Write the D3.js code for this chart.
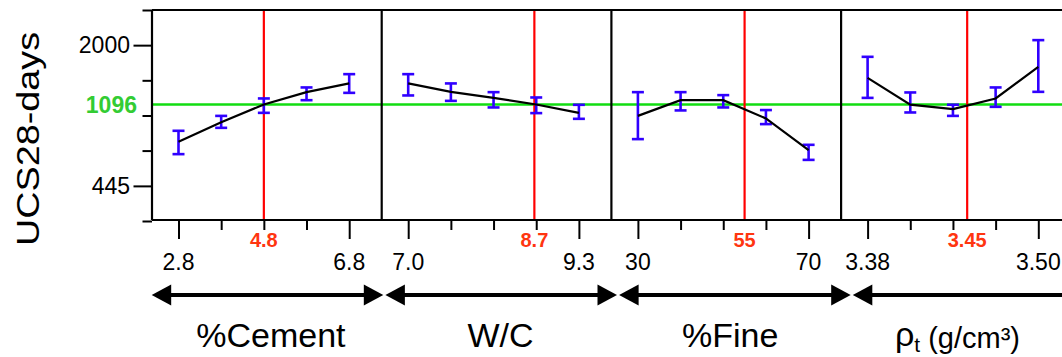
<!DOCTYPE html>
<html>
<head>
<meta charset="utf-8">
<script src="https://cdnjs.cloudflare.com/ajax/libs/d3/7.8.5/d3.min.js"></script>
<style>
  html, body { margin: 0; padding: 0; background: #fff; }
  svg { display: block; font-family: "Liberation Sans", Arial, Helvetica, sans-serif; }
</style>
</head>
<body>
<svg id="chart" width="1062" height="357"></svg>
<script>
// Prediction profiler: UCS at 28 days versus four mix factors.

// Factor levels (x) and predicted response with confidence limits (y)
const cementLevels = [2.8, 3.8, 4.8, 5.8, 6.8];
const cementMean   = [734, 909, 1096, 1247, 1364];
const cementLow    = [640, 855, 1004, 1147, 1238];
const cementHigh   = [828, 972, 1168, 1309, 1499];

const wcLevels = [7.0, 7.575, 8.15, 8.725, 9.3];
const wcMean   = [1364, 1251, 1175, 1096, 1004];
const wcLow    = [1205, 1139, 1063, 1001, 942];
const wcHigh   = [1499, 1364, 1247, 1180, 1093];

const fineLevels = [30, 40, 50, 60, 70];
const fineMean   = [972, 1147, 1147, 946, 669];
const fineLow    = [756, 1030, 1063, 890, 600];
const fineHigh   = [1247, 1247, 1209, 1034, 710];

const densityLevels = [3.38, 3.41, 3.44, 3.47, 3.50];
const densityMean   = [1444, 1094, 1044, 1168, 1614];
const densityLow    = [1175, 1008, 972, 1070, 1251];
const densityHigh   = [1783, 1243, 1094, 1309, 2100];

// Current factor settings and the response predicted there
const currentSettings = [4.8, 8.7, 55, 3.45];
const currentLabels   = ["4.8", "8.7", "55", "3.45"];
const predictedValue  = 1096;

// Axis text
const endTickLabels = [["2.8", "6.8"], ["7.0", "9.3"], ["30", "70"], ["3.38", "3.50"]];
const yTickValues   = [292, 445, 666, 976, 1408, 2000, 2800];
const yTickLabelled = [445, 2000];
const yDomain       = [292, 2800];
const yTitle        = "UCS28-days";

// ---------------------------------------------------------------------------
const panels = [
  { levels: cementLevels,  mean: cementMean,  low: cementLow,  high: cementHigh },
  { levels: wcLevels,      mean: wcMean,      low: wcLow,      high: wcHigh },
  { levels: fineLevels,    mean: fineMean,    low: fineLow,    high: fineHigh },
  { levels: densityLevels, mean: densityMean, low: densityLow, high: densityHigh }
].map((p, i) => Object.assign(p, {
  current: currentSettings[i],
  currentLabel: currentLabels[i],
  ends: endTickLabels[i]
}));

const W = 1062;
const plotTop = 10, plotBottom = 220;
const left0 = 152, panelW = 229.7;
const BLUE = "#3000ff", RED = "#ff0000", RED_TXT = "#ff3510";
const GREEN = "#11dd11", GREEN_TXT = "#33cc33";

const svg = d3.select("#chart");
svg.append("rect").attr("width", W).attr("height", 357).attr("fill", "#fff");

const y = d3.scalePow().exponent(0.12).domain(yDomain).range([221, plotTop]);

// Horizontal reference line at the predicted response
svg.append("line")
  .attr("x1", left0).attr("x2", W)
  .attr("y1", y(predictedValue)).attr("y2", y(predictedValue))
  .attr("stroke", GREEN).attr("stroke-width", 2.6);

panels.forEach((p, i) => {
  const x0 = left0 + i * panelW, x1 = x0 + panelW;
  const x = d3.scaleLinear()
    .domain([p.levels[0], p.levels[p.levels.length - 1]])
    .range([x0 + 26.5, x1 - 32.5]);
  const g = svg.append("g");

  // bottom axis: long ticks at the ends, short ones inside
  const ax = g.append("g")
    .attr("transform", `translate(0,${plotBottom})`)
    .call(d3.axisBottom(x).tickValues(p.levels).tickSizeOuter(0).tickFormat(""));
  ax.select(".domain").remove();
  ax.selectAll(".tick line")
    .attr("y2", (d, j) => (j === 0 || j === p.levels.length - 1) ? 19 : 10)
    .attr("stroke", "#000").attr("stroke-width", 2);

  g.selectAll("text.end")
    .data([p.levels[0], p.levels[p.levels.length - 1]])
    .join("text")
    .attr("class", "end")
    .attr("x", d => x(d)).attr("y", 270)
    .attr("text-anchor", "middle")
    .attr("font-size", 23)
    .text((d, j) => p.ends[j]);

  // current setting
  g.append("line")
    .attr("x1", x(p.current)).attr("x2", x(p.current))
    .attr("y1", plotTop).attr("y2", plotBottom)
    .attr("stroke", RED).attr("stroke-width", 2.2);
  g.append("text")
    .attr("x", x(p.current)).attr("y", 246.7)
    .attr("text-anchor", "middle")
    .attr("font-size", 20).attr("font-weight", "bold")
    .attr("fill", RED_TXT)
    .text(p.currentLabel);

  // confidence bars
  const rows = p.levels.map((lv, j) => ({ lv, m: p.mean[j], lo: p.low[j], hi: p.high[j] }));
  const eb = g.append("g").attr("stroke", BLUE).attr("stroke-width", 2.6).attr("fill", "none");
  eb.selectAll("line.v").data(rows).join("line").attr("class", "v")
    .attr("x1", d => x(d.lv)).attr("x2", d => x(d.lv))
    .attr("y1", d => y(d.lo)).attr("y2", d => y(d.hi));
  eb.selectAll("line.lo").data(rows).join("line").attr("class", "lo")
    .attr("x1", d => x(d.lv) - 6).attr("x2", d => x(d.lv) + 6)
    .attr("y1", d => y(d.lo)).attr("y2", d => y(d.lo));
  eb.selectAll("line.hi").data(rows).join("line").attr("class", "hi")
    .attr("x1", d => x(d.lv) - 6).attr("x2", d => x(d.lv) + 6)
    .attr("y1", d => y(d.hi)).attr("y2", d => y(d.hi));

  // prediction trace
  g.append("path")
    .datum(rows)
    .attr("fill", "none").attr("stroke", "#000").attr("stroke-width", 2.2)
    .attr("d", d3.line().x(d => x(d.lv)).y(d => y(d.m)));
});

// frame
const frame = svg.append("g").attr("stroke", "#000").attr("stroke-width", 2.2);
frame.append("line").attr("x1", left0).attr("x2", W).attr("y1", plotTop).attr("y2", plotTop);
frame.append("line").attr("x1", left0).attr("x2", W).attr("y1", plotBottom).attr("y2", plotBottom);
d3.range(panels.length + 1).forEach(i => {
  const xx = left0 + i * panelW;
  frame.append("line").attr("x1", xx).attr("x2", xx).attr("y1", plotTop).attr("y2", plotBottom);
});

// y axis
const yAx = svg.append("g")
  .attr("transform", `translate(${left0},0)`)
  .call(d3.axisLeft(y).tickValues(yTickValues).tickSizeOuter(0)
    .tickFormat(d => yTickLabelled.includes(d) ? d3.format("d")(d) : ""));
yAx.select(".domain").remove();
yAx.selectAll(".tick line")
  .attr("x2", d => yTickLabelled.includes(d) ? -18.5 : -9.5)
  .attr("stroke", "#000").attr("stroke-width", 2);
yAx.selectAll(".tick text")
  .attr("x", -22).attr("font-size", 23)
  .attr("font-family", "\"Liberation Sans\", Arial, sans-serif")
  .attr("fill", "#000");

svg.append("text")
  .attr("x", 137).attr("y", y(predictedValue))
  .attr("dy", "0.36em")
  .attr("text-anchor", "end")
  .attr("font-size", 23).attr("font-weight", "bold")
  .attr("fill", GREEN_TXT)
  .text(predictedValue);

svg.append("text")
  .attr("transform", "translate(39,139) rotate(-90)")
  .attr("text-anchor", "middle")
  .attr("font-size", 32)
  .attr("textLength", 214).attr("lengthAdjust", "spacingAndGlyphs")
  .text(yTitle);

// factor arrows and names
const arrowY = 295, headL = 19.5, headH = 10.5;
panels.forEach((p, i) => {
  const a0 = 151.7 + i * 233.7, a1 = a0 + 231.6;
  const g = svg.append("g");
  g.append("line")
    .attr("x1", a0 + headL - 1).attr("x2", a1 - headL + 1)
    .attr("y1", arrowY).attr("y2", arrowY)
    .attr("stroke", "#000").attr("stroke-width", 4);
  g.append("path").attr("fill", "#000")
    .attr("d", `M${a0},${arrowY}L${a0 + headL},${arrowY - headH}L${a0 + headL},${arrowY + headH}Z`);
  g.append("path").attr("fill", "#000")
    .attr("d", `M${a1},${arrowY}L${a1 - headL},${arrowY - headH}L${a1 - headL},${arrowY + headH}Z`);
});

const titleX = i => left0 + (i + 0.5) * panelW + (i === 3 ? 1.5 : 4);
["%Cement", "W/C", "%Fine"].forEach((t, i) => {
  svg.append("text")
    .attr("x", titleX(i)).attr("y", 346.5)
    .attr("text-anchor", "middle")
    .attr("font-size", 34)
    .text(t);
});
const rho = svg.append("text")
  .attr("x", titleX(3)).attr("y", 346)
  .attr("text-anchor", "middle");
rho.append("tspan").attr("font-size", 34).text("ρ");
rho.append("tspan").attr("font-size", 21).attr("dy", 5.5).text("t");
rho.append("tspan").attr("font-size", 29).attr("dy", -4).text(" (g/cm³)");
</script>
</body>
</html>
